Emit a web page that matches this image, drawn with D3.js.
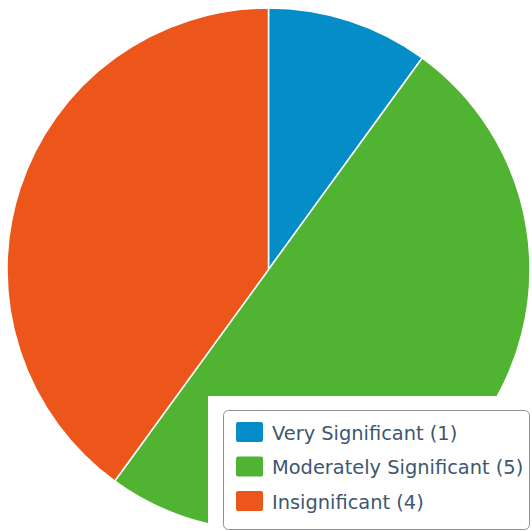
<!DOCTYPE html>
<html><head><meta charset="utf-8">
<script src="https://cdn.jsdelivr.net/npm/d3@7"></script>
<style>html,body{margin:0;padding:0;background:#fff;}svg{display:block;}</style>
</head><body>
<svg id="chart" width="532" height="531"></svg>
<script>
const categories = ["Very Significant", "Moderately Significant", "Insignificant"];
const values = [1, 5, 4];
const colors = ["#058DC7", "#50B432", "#ED561B"];

const svg = d3.select("#chart");
const cx = 268.5, cy = 269.5, r = 261.5;

const pie = d3.pie().sort(null).value(d => d)(values);
const arc = d3.arc().innerRadius(0).outerRadius(r);
const color = d3.scaleOrdinal().domain(categories).range(colors);

svg.append("g").attr("transform", `translate(${cx},${cy})`)
  .selectAll("path").data(pie).join("path")
  .attr("d", arc)
  .attr("fill", (d, i) => color(categories[i]))
  .attr("stroke", "#fff").attr("stroke-width", 1.5).attr("stroke-linejoin", "round");

// legend
const lg = svg.append("g");
lg.append("rect").attr("x", 208).attr("y", 396).attr("width", 330).attr("height", 140).attr("fill", "#fff");
lg.append("rect").attr("x", 223.5).attr("y", 410.5).attr("width", 306).attr("height", 119)
  .attr("rx", 5).attr("fill", "#fff").attr("stroke", "#909090").attr("stroke-width", 1);

const ly = d3.scalePoint().domain(categories).range([432, 501]);
const items = lg.selectAll("g.item").data(categories).join("g").attr("class", "item")
  .attr("transform", d => `translate(0,${ly(d)})`);
items.append("rect").attr("x", 236).attr("y", -10).attr("width", 27).attr("height", 20).attr("rx", 2)
  .attr("fill", d => color(d));
items.append("text").attr("x", 272).attr("y", 1).attr("dy", "0.36em")
  .attr("font-family", "DejaVu Sans, sans-serif").attr("font-size", 19.4).attr("fill", "#3E576F")
  .text((d, i) => `${d} (${values[i]})`);
</script>
</body></html>
